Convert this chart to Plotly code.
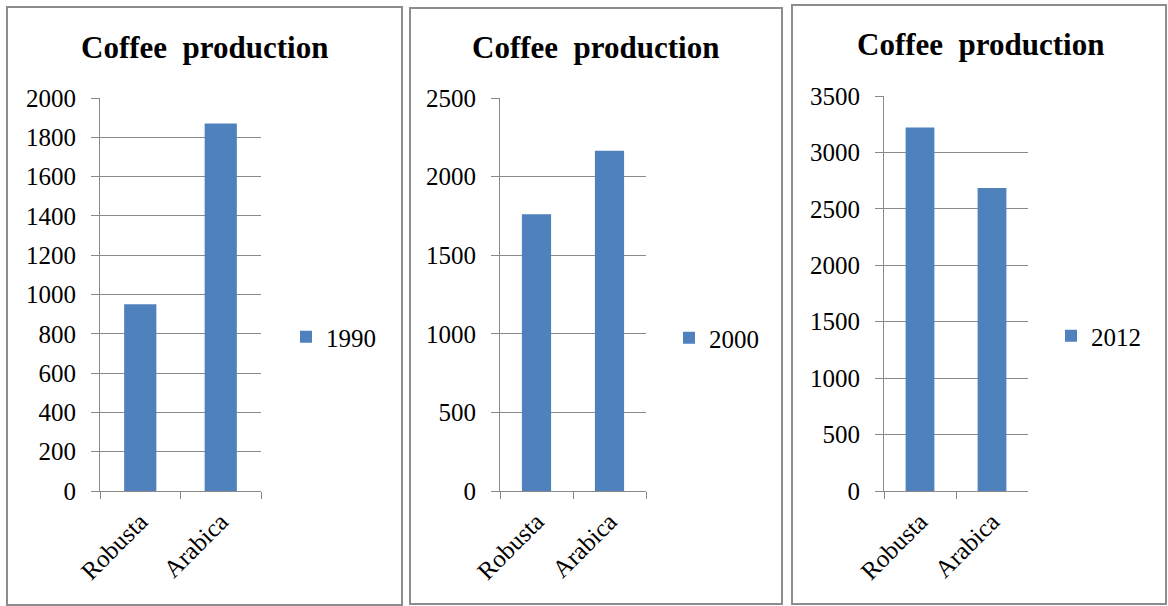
import plotly.graph_objects as go

W, H = 1168, 606

categories = ["Robusta", "Arabica"]
years = ["1990", "2000", "2012"]
prod_1990 = [950, 1870]
prod_2000 = [1760, 2165]
prod_2012 = [3220, 2685]
y_max = [2000, 2500, 3500]
y_step = [200, 500, 500]

BAR = "#4F81BD"
GRID = "#8a8a8a"
FONT = "Liberation Serif, Times New Roman, serif"

# pixel layout of each chart panel: plot box and outer frame
plot_px = [(100, 261, 98, 491), (500, 646, 98, 491), (884, 1028, 96, 491)]
frame_px = [(7, 402, 7, 605), (410, 782, 8, 604), (792, 1166, 5, 604)]
title_px = [(204, 47), (595, 48), (980, 45)]
legend_px = [(286, 337), (669, 338), (1051, 336)]


def px_x(v):
    return v / W


def px_y(v):
    return 1 - v / H


fig = go.Figure()
series = [prod_1990, prod_2000, prod_2012]

for i, (vals, year) in enumerate(zip(series, years)):
    sfx = "" if i == 0 else str(i + 1)
    leg = "legend" if i == 0 else f"legend{i + 1}"
    fig.add_trace(go.Bar(
        x=categories, y=vals, name=year,
        marker=dict(color=BAR, line=dict(width=0)),
        xaxis="x" + sfx, yaxis="y" + sfx, legend=leg,
        showlegend=True,
    ))

layout = dict(
    width=W, height=H,
    margin=dict(l=0, r=0, t=0, b=0, autoexpand=False),
    paper_bgcolor="white", plot_bgcolor="white",
    bargap=0.6,
    font=dict(family=FONT, size=25, color="black"),
    shapes=[], annotations=[],
)

for i in range(3):
    sfx = "" if i == 0 else str(i + 1)
    x0, x1, y0, y1 = plot_px[i]
    layout["xaxis" + sfx] = dict(
        domain=[px_x(x0), px_x(x1)], anchor="y" + sfx,
        showline=True, linecolor=GRID, linewidth=1,
        ticks="outside", ticklen=7, tickcolor=GRID, tickson="boundaries",
        tickangle=-45, tickfont=dict(family=FONT, size=25),
        ticklabelstandoff=5, automargin=False,
        showgrid=False, fixedrange=True,
    )
    layout["yaxis" + sfx] = dict(
        domain=[px_y(y1), px_y(y0)], anchor="x" + sfx,
        range=[0, y_max[i]], dtick=y_step[i], tick0=0,
        showline=True, linecolor=GRID, linewidth=1,
        ticks="outside", ticklen=8, tickcolor=GRID,
        showgrid=True, gridcolor=GRID, gridwidth=1,
        zeroline=False, ticklabelstandoff=10, automargin=False,
        tickfont=dict(family=FONT, size=25), fixedrange=True,
    )
    fx0, fx1, fy0, fy1 = frame_px[i]
    layout["shapes"].append(dict(
        type="rect", xref="paper", yref="paper",
        x0=px_x(fx0), x1=px_x(fx1), y0=px_y(fy1), y1=px_y(fy0),
        line=dict(color="#8c8c8c", width=2), layer="below",
    ))
    tx, ty = title_px[i]
    layout["annotations"].append(dict(
        text="<b>Coffee  production</b>", xref="paper", yref="paper",
        x=px_x(tx), y=px_y(ty), xanchor="center", yanchor="middle",
        showarrow=False, font=dict(family=FONT, size=31, color="black"),
    ))
    lx, ly = legend_px[i]
    leg = "legend" if i == 0 else f"legend{i + 1}"
    layout[leg] = dict(
        x=px_x(lx), y=px_y(ly), xanchor="left", yanchor="middle",
        font=dict(family=FONT, size=25, color="black"),
        bgcolor="rgba(0,0,0,0)", borderwidth=0, itemwidth=30,
    )

fig.update_layout(**layout)
fig.write_html("out.html")
